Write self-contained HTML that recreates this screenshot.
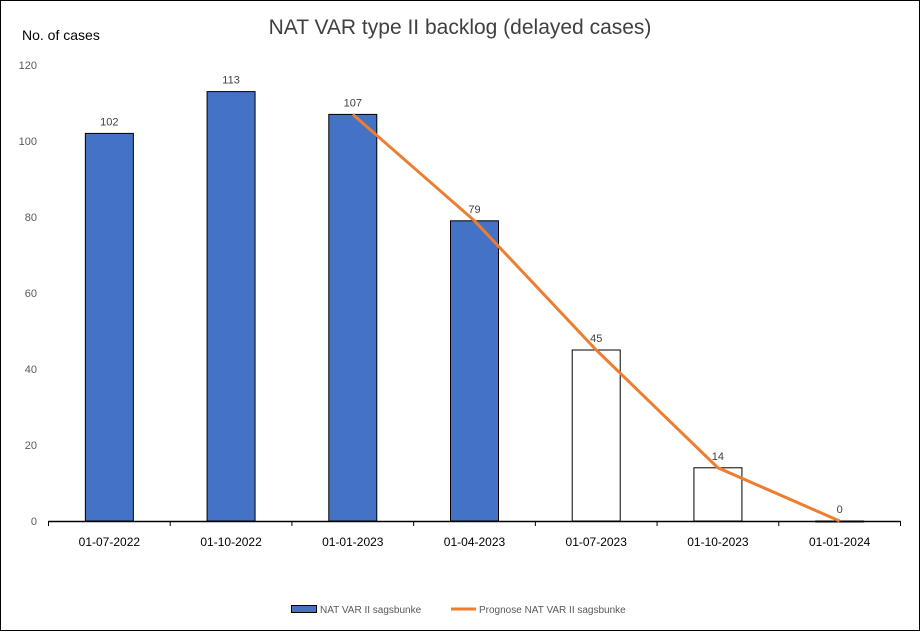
<!DOCTYPE html>
<html><head><meta charset="utf-8"><style>
body{margin:0;background:#fff;font-family:"Liberation Sans",sans-serif}
#c{position:relative;width:918px;height:629px;border:1px solid #000;background:#fff}
</style></head><body>
<div id="c">
<svg id="s" width="918" height="629" xmlns="http://www.w3.org/2000/svg"></svg>
</div>
<script>
const categories=["01-07-2022","01-10-2022","01-01-2023","01-04-2023","01-07-2023","01-10-2023","01-01-2024"];
const barValues=[102,113,107,79,45,14,0];
const barFilled=[true,true,true,true,false,false,false];
const forecastValues=[null,null,107,79,45,14,0];
const yTicks=[0,20,40,60,80,100,120];
const NS="http://www.w3.org/2000/svg";
const s=document.getElementById('s');
const X0=47.5,X1=899.5,Y0=520,Y1=64,YMAX=120;
const band=(X1-X0)/categories.length;
const xc=i=>X0+band*(i+0.5);
const y=v=>Y0-(v/YMAX)*(Y0-Y1);
function mk(t,a,txt){const e=document.createElementNS(NS,t);for(const k in a)e.setAttribute(k,a[k]);if(txt!=null)e.textContent=txt;s.appendChild(e);return e;}
let t=mk('text',{x:459,y:33,'text-anchor':'middle','font-size':21,fill:'#404040'},'NAT VAR type II backlog (delayed cases)');


t=mk('text',{x:21,y:39,'font-size':14,fill:'#000'},'No. of cases');


yTicks.forEach(v=>{const e=mk('text',{x:36,y:y(v)+4,'text-anchor':'end','font-size':11,fill:'#595959'},v);

});
categories.forEach((c,i)=>{
const bw=48,h=Y0-y(barValues[i]);
const r=mk('rect',{x:xc(i)-bw/2,y:y(barValues[i]),width:bw,height:Math.max(h,1),fill:barFilled[i]?'#4472C4':'#fff',stroke:'#000','stroke-width':1});


const l=mk('text',{x:xc(i),y:y(barValues[i])-8,'text-anchor':'middle','font-size':11,fill:'#404040'},barValues[i]);


const xl=mk('text',{x:xc(i),y:545,'text-anchor':'middle','font-size':12,fill:'#000'},c);


});
for(let i=0;i<=categories.length;i++){const tk=mk('line',{x1:X0+band*i,x2:X0+band*i,y1:Y0,y2:Y0+5,stroke:'#000'});

}
const ax=mk('line',{x1:X0,x2:X1,y1:Y0+0.5,y2:Y0+0.5,stroke:'#000','stroke-width':1.5});


const pts=[];forecastValues.forEach((v,i)=>{if(v!=null)pts.push(xc(i)+','+y(v));});
const pl=mk('polyline',{points:pts.join(' '),fill:'none',stroke:'#ED7D31','stroke-width':3});


let e=mk('rect',{x:290.5,y:604.5,width:25,height:7,fill:'#4472C4',stroke:'#000'});


e=mk('text',{x:319,y:612,'font-size':10,fill:'#595959'},'NAT VAR II sagsbunke');


e=mk('line',{x1:450,x2:475,y1:608,y2:608,stroke:'#ED7D31','stroke-width':3});


e=mk('text',{x:478,y:612,'font-size':10,fill:'#595959'},'Prognose NAT VAR II sagsbunke');


</script>
</body></html>
